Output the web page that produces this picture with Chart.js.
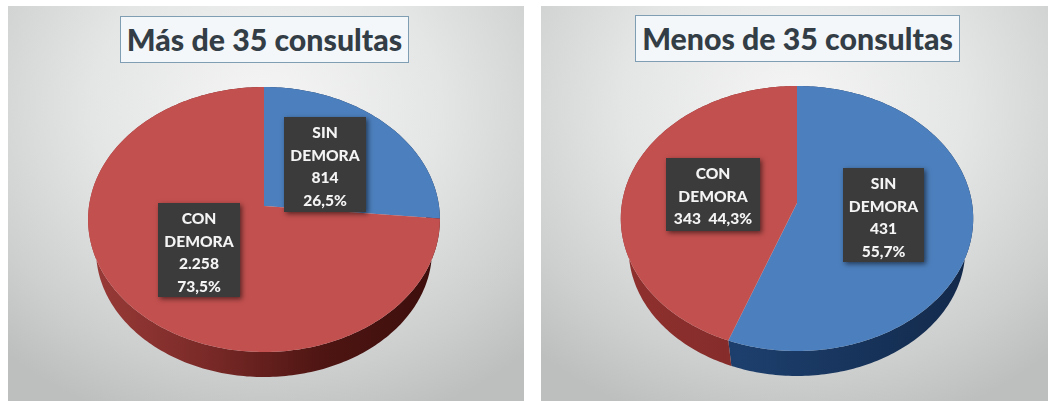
<!DOCTYPE html>
<html><head><meta charset="utf-8">
<script src="https://cdn.jsdelivr.net/npm/chart.js@4"></script>
<style>
html,body{margin:0;padding:0;background:#fff;width:1048px;height:401px;overflow:hidden}
#wrap{position:relative;width:1048px;height:401px;filter:blur(.55px)}
.panel{position:absolute;top:6px;height:395px;background:radial-gradient(ellipse 75% 85% at 50% 25%,#f5f5f5 0%,#e4e5e5 45%,#cdcece 80%,#bdbebe 100%)}
.panel canvas{position:absolute;left:0;top:0}
.title{position:absolute;box-sizing:border-box;background:#f3f7f9;border:1px solid #7f9db3;color:#333d45;
 font:900 30.3px Lato,sans-serif;text-align:center;white-space:nowrap;line-height:44px}
</style></head><body>
<div id="wrap">
 <div class="panel" style="left:8px;width:516px"><canvas id="c1" width="516" height="395"></canvas>
  <div class="title" style="left:112px;top:10px;width:289px;height:47px">Más de 35 consultas</div></div>
 <div class="panel" style="left:541px;width:507px"><canvas id="c2" width="507" height="395"></canvas>
  <div class="title" style="left:94px;top:9px;width:325px;height:47px">Menos de 35 consultas</div></div>
</div>
<script>
const categories = ['SIN DEMORA', 'CON DEMORA'];
const valuesMas = [814, 2258];
const valuesMenos = [431, 343];
const labelsMas = [['SIN', 'DEMORA', '814', '26,5%'], ['CON', 'DEMORA', '2.258', '73,5%']];
const labelsMenos = [['SIN', 'DEMORA', '431', '55,7%'], ['CON', 'DEMORA', '343  44,3%']];
const topColors = ['#4c7fbd', '#c2504f'];

const stepAngle = Math.PI / 180;

const pie3d = {
  id: 'pie3d',
  beforeDatasetsDraw(chart, args, o) {
    const ctx = chart.ctx;
    const k = (o.up - o.down) / (o.up + o.down);
    const A = o.down * (1 + k);
    const rim = a => {
      const u = Math.cos(a), v = Math.sin(a), w = 1 + k * v;
      return [o.R * u / w, A * v / w];
    };
    const path = (a0, a1, fn, rev) => {
      const n = Math.max(2, Math.ceil((a1 - a0) / stepAngle));
      for (let i = 0; i <= n; i++) {
        const t = rev ? n - i : i;
        const p = rim(a0 + (a1 - a0) * t / n);
        fn(p[0], p[1]);
      }
    };
    const meta = chart.getDatasetMeta(0);
    // side wall
    meta.data.forEach((el, i) => {
      const g = ctx.createLinearGradient(o.cx - o.R, 0, o.cx + o.R, 0);
      o.side[i].forEach((c, j, arr) => g.addColorStop(j / (arr.length - 1), c));
      ctx.save();
      ctx.beginPath();
      path(el.startAngle, el.endAngle, (x, y) => ctx.lineTo(o.cx + x, o.cy + y));
      path(el.startAngle, el.endAngle, (x, y) => ctx.lineTo(o.cx + x * o.s, o.cy + o.dy + y * o.s), true);
      ctx.closePath();
      ctx.fillStyle = g;
      ctx.fill();
      ctx.restore();
    });
    // top surface: drawn from the angles computed by the library
    meta.data.forEach(el => {
      el.draw = function (c) {
        c.save();
        c.beginPath();
        c.moveTo(o.cx, o.cy);
        path(this.startAngle, this.endAngle, (x, y) => c.lineTo(o.cx + x, o.cy + y));
        c.closePath();
        c.fillStyle = this.options.backgroundColor;
        c.fill();
        c.restore();
      };
    });
  },
  afterDatasetsDraw(chart, args, o) {
    const ctx = chart.ctx;
    o.texts.forEach((lines, i) => {
      const b = o.boxes[i];
      ctx.save();
      ctx.shadowColor = 'rgba(0,0,0,.55)';
      ctx.shadowBlur = 5;
      ctx.shadowOffsetX = 2;
      ctx.shadowOffsetY = 2;
      ctx.fillStyle = '#3b3b3b';
      ctx.fillRect(b[0], b[1], b[2], b[3]);
      ctx.restore();
      ctx.save();
      ctx.fillStyle = '#f4f4f4';
      ctx.font = '900 15.6px Lato, sans-serif';
      ctx.textAlign = 'center';
      ctx.textBaseline = 'middle';
      lines.forEach((t, j) => ctx.fillText(t, b[0] + b[2] / 2, b[1] + 16 + j * 22.5));
      ctx.restore();
    });
  }
};

function make(id, values, texts, geom) {
  new Chart(document.getElementById(id), {
    type: 'pie',
    data: { labels: categories, datasets: [{ data: values, backgroundColor: topColors, borderWidth: 0 }] },
    options: {
      responsive: false, animation: false, events: [],
      plugins: { legend: { display: false }, tooltip: { enabled: false }, pie3d: Object.assign({ texts }, geom) }
    },
    plugins: [pie3d]
  });
}

make('c1', valuesMas, labelsMas, {
  cx: 256, cy: 200, R: 175, up: 119, down: 146, s: .955, dy: 31.6,
  side: [['#1f3d66', '#15294a'], ['#9a3b38', '#7a2a28', '#4e1512', '#3c0e0c']],
  boxes: [[276, 111, 82, 95], [150, 197, 82, 94]]
});
make('c2', valuesMenos, labelsMenos, {
  cx: 256, cy: 197, R: 175, up: 117, down: 148, s: .955, dy: 31.6,
  side: [['#17345c', '#1d3f6d', '#17345c', '#13294a'], ['#8f302e', '#6f2523']],
  boxes: [[302, 162, 81, 94], [125, 152, 94, 73]]
});
</script>
</body></html>
